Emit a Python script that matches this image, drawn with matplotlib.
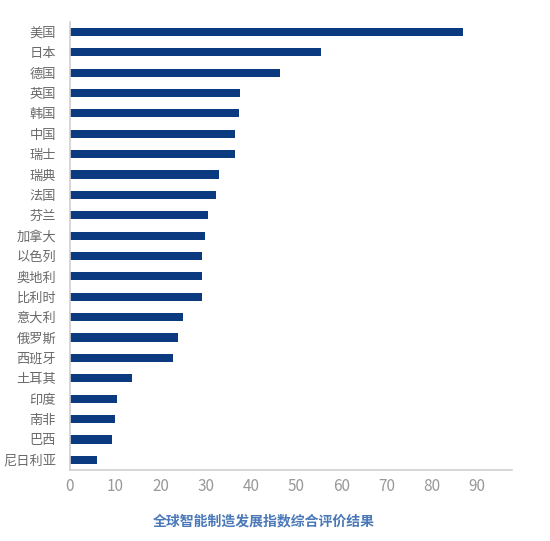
import matplotlib
matplotlib.use("Agg")
import matplotlib.pyplot as plt

plt.rcParams['font.family'] = ['Noto Sans CJK SC', 'DejaVu Sans']

countries = ["美国", "日本", "德国", "英国", "韩国", "中国", "瑞士", "瑞典", "法国", "芬兰",
             "加拿大", "以色列", "奥地利", "比利时", "意大利", "俄罗斯", "西班牙", "土耳其",
             "印度", "南非", "巴西", "尼日利亚"]
values = [86.9, 55.5, 46.5, 37.6, 37.4, 36.6, 36.6, 33.0, 32.2, 30.6,
          29.8, 29.1, 29.1, 29.1, 25.1, 24.0, 22.7, 13.8,
          10.5, 10.0, 9.4, 6.0]
xticks = [0, 10, 20, 30, 40, 50, 60, 70, 80, 90]
title = "全球智能制造发展指数综合评价结果"

fig = plt.figure(figsize=(5.5, 5.41), dpi=100)
ax = fig.add_axes([70/550, 1 - 470/541, (512-70)/550, (470-21.7)/541])

pos = list(range(len(countries)))[::-1]
ax.barh(pos, values, height=0.4, color="#0b3a80")
ax.set_yticks(pos)
ax.set_yticklabels(countries)
ax.set_ylim(-0.5, len(countries) - 0.5)
ax.set_xlim(0, 97.8)
ax.set_xticks(xticks)

for s in ["top", "right"]:
    ax.spines[s].set_visible(False)
for s in ["left", "bottom"]:
    ax.spines[s].set_color("#d0d0d0")
    ax.spines[s].set_linewidth(1.2)

ax.tick_params(axis="y", length=0, pad=10, labelsize=9.5, labelcolor="#6a6a6a")
ax.tick_params(axis="x", length=0, pad=6, labelsize=11, labelcolor="#999999")

fig.text(264/550, 1 - 521/541, title, ha="center", va="center",
         fontsize=10, fontweight="bold", color="#4a78b8")

fig.savefig("out.png", dpi=100)
